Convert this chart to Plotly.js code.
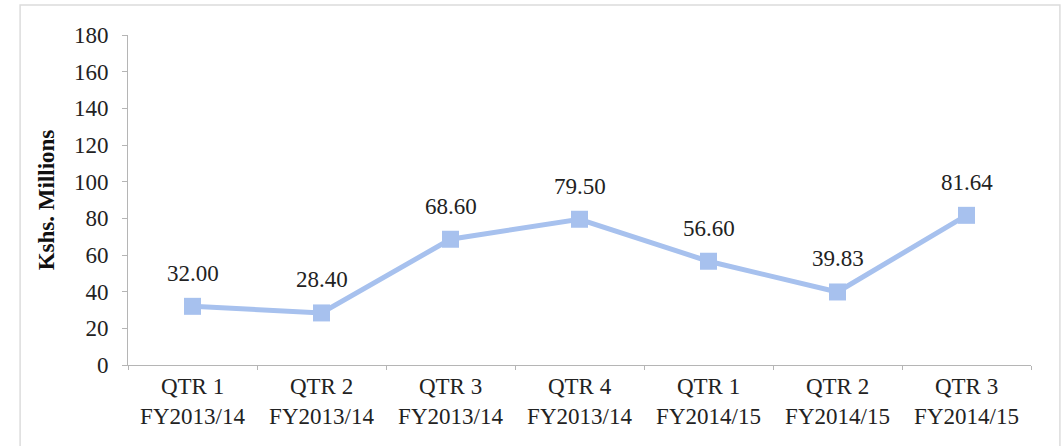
<!DOCTYPE html>
<html>
<head>
<meta charset="utf-8">
<script src="https://cdn.plot.ly/plotly-3.0.1.min.js"></script>
<style>
html,body{margin:0;padding:0;background:#fff;}
#chart{width:1064px;height:446px;}
</style>
</head>
<body>
<div id="chart"></div>
<script>
var categories = ["QTR 1<br>FY2013/14","QTR 2<br>FY2013/14","QTR 3<br>FY2013/14","QTR 4<br>FY2013/14","QTR 1<br>FY2014/15","QTR 2<br>FY2014/15","QTR 3<br>FY2014/15"];
var values = [32.00, 28.40, 68.60, 79.50, 56.60, 39.83, 81.64];
var valueLabels = ["32.00","28.40","68.60","79.50","56.60","39.83","81.64"];
var yTicks = [0,20,40,60,80,100,120,140,160,180];

var font = "Liberation Serif, Times New Roman, serif";
var trace = {
  x: categories, y: values, type: "scatter", mode: "lines+markers",
  line: {color: "#a7c1ee", width: 5},
  marker: {symbol: "square", size: 17, color: "#a7c1ee"},
  hoverinfo: "skip"
};
var annotations = values.map(function(v,i){
  return {x: categories[i], y: v, text: valueLabels[i], showarrow: false,
    yshift: 33, yanchor: "middle", xanchor: "center",
    font: {family: font, size: 23, color: "#222"}};
});
var layout = {
  width: 1064, height: 446,
  margin: {l: 128, r: 33, t: 35, b: 81},
  paper_bgcolor: "#fff", plot_bgcolor: "#fff",
  showlegend: false,
  font: {family: font, size: 23, color: "#222"},
  xaxis: {
    type: "category", range: [-0.5, 6.5], tickson: "boundaries", ticks: "outside", ticklen: 4,
    tickcolor: "#b5b5b5", showline: true, linecolor: "#b5b5b5", linewidth: 1,
    showgrid: false, zeroline: false, tickfont: {family: font, size: 23, color: "#222"},
    automargin: false
  },
  yaxis: {
    range: [0, 180], tickvals: yTicks, ticktext: yTicks.map(String),
    ticks: "outside", ticklen: 5, tickcolor: "#b5b5b5",
    showline: true, linecolor: "#b5b5b5", linewidth: 1,
    showgrid: false, zeroline: false, ticklabelstandoff: 9,
    tickfont: {family: font, size: 23, color: "#222"},
    title: {text: "Kshs. Millions", font: {family: font, size: 23, color: "#111", weight: "bold"}, standoff: 12},
    automargin: false
  },
  annotations: annotations,
  shapes: [{type: "rect", xref: "paper", yref: "paper", x0: -0.1195, x1: 1.032, y0: -0.25, y1: 1.091,
    line: {color: "#dcdcdc", width: 1.5}, fillcolor: "rgba(0,0,0,0)"}]
};
Plotly.newPlot("chart", [trace], layout, {staticPlot: true, displayModeBar: false});
</script>
</body>
</html>
